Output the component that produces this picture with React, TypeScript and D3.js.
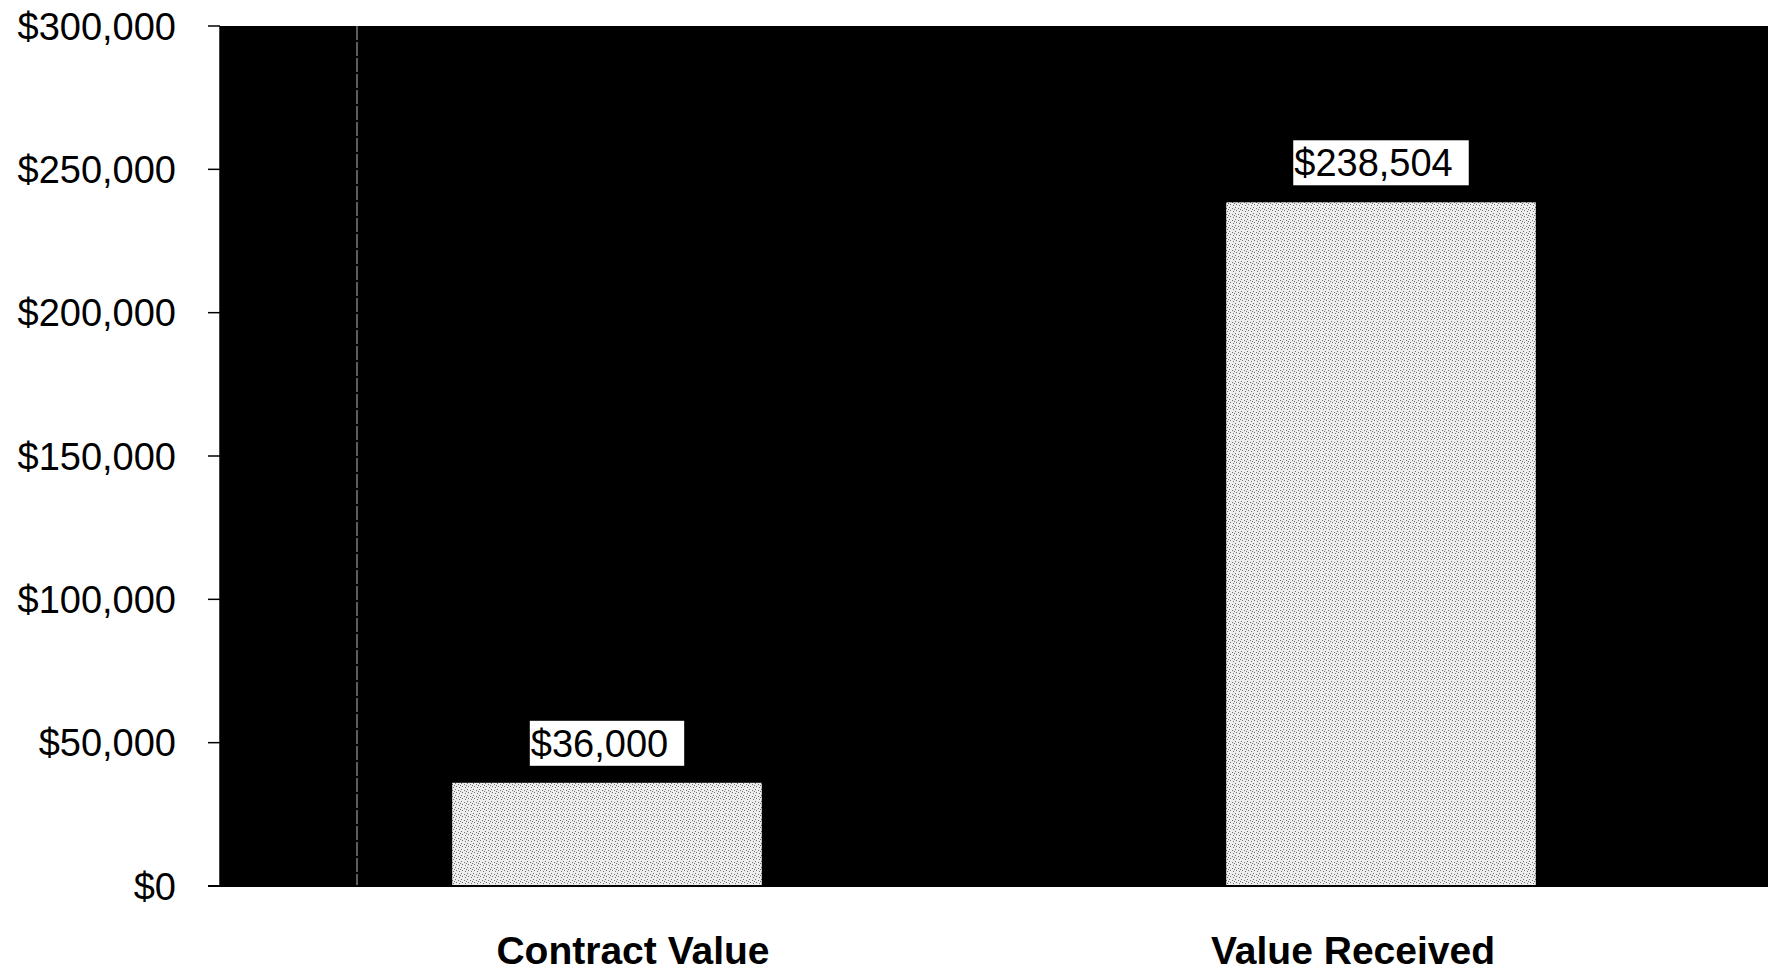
import React, { useEffect, useRef } from 'react';
import * as d3 from 'd3';

const categories = ['Contract Value', 'Value Received'];
const values = [36000, 238504];
const yTicks = [0, 50000, 100000, 150000, 200000, 250000, 300000];

const W = 1777;
const H = 974;

const App: React.FC = () => {
  const svgRef = useRef<SVGSVGElement>(null);

  useEffect(() => {
    if (!svgRef.current) return;
    const svg = d3.select(svgRef.current);
    svg.selectAll('*').remove();

    const margin = { top: 26, right: 9, bottom: 88, left: 220 };
    const innerW = W - margin.left - margin.right;
    const innerH = H - margin.top - margin.bottom;

    const x = d3.scaleBand<string>()
      .domain(categories)
      .range([0, innerW])
      .paddingInner(0.6)
      .paddingOuter(0.3);

    const y = d3.scaleLinear().domain([0, 300000]).range([innerH, 0]);

    // stipple texture for the bars
    const defs = svg.append('defs');
    const pat = defs.append('pattern')
      .attr('id', 'stipple')
      .attr('patternUnits', 'userSpaceOnUse')
      .attr('width', 6)
      .attr('height', 6);
    pat.append('rect').attr('width', 6).attr('height', 6).attr('fill', '#eeeeee');
    [[1, 1], [4, 2], [2, 4], [5, 5], [0, 3]].forEach(([px, py]) => {
      pat.append('rect').attr('x', px).attr('y', py).attr('width', 1).attr('height', 1).attr('fill', '#707070');
    });

    const g = svg.append('g').attr('transform', `translate(${margin.left},${margin.top})`);

    // plot area
    g.append('rect')
      .attr('width', innerW)
      .attr('height', innerH)
      .attr('fill', '#000');

    // faint scan line near the left
    g.append('line')
      .attr('x1', 137).attr('x2', 137)
      .attr('y1', 0).attr('y2', innerH)
      .attr('stroke', '#9a9a9a')
      .attr('stroke-width', 1.2)
      .attr('stroke-dasharray', '14,2');

    // bars
    g.selectAll('.bar')
      .data(values)
      .enter()
      .append('rect')
      .attr('class', 'bar')
      .attr('x', (d, i) => x(categories[i]) || 0)
      .attr('y', d => y(d))
      .attr('width', x.bandwidth())
      .attr('height', d => innerH - y(d))
      .attr('fill', 'url(#stipple)');

    // value labels in white boxes
    const fmt = (v: number) => '$' + d3.format(',')(v);
    values.forEach((v, i) => {
      const cx = (x(categories[i]) || 0) + x.bandwidth() / 2;
      const lg = g.append('g');
      const box = lg.append('rect').attr('fill', '#fff');
      const t = lg.append('text')
        .text(fmt(v))
        .attr('font-family', '"Liberation Sans", Arial, sans-serif')
        .attr('font-size', 38)
        .attr('fill', '#000');
      const tw = (t.node() as SVGTextElement).getComputedTextLength();
      const bw = tw + 17;
      const bh = 45;
      const bottom = y(v) - 17;
      box.attr('x', cx - bw / 2).attr('y', bottom - bh).attr('width', bw).attr('height', bh);
      t.attr('x', cx - bw / 2 + 1).attr('y', bottom - 9);
    });

    // y axis
    const yAxis = g.append('g');
    yAxis.append('line')
      .attr('x1', 0).attr('x2', 0).attr('y1', 0).attr('y2', innerH)
      .attr('stroke', '#000').attr('stroke-width', 1.5);
    yAxis.selectAll('.tick')
      .data(yTicks)
      .enter()
      .append('line')
      .attr('x1', -12).attr('x2', 0)
      .attr('y1', d => y(d)).attr('y2', d => y(d))
      .attr('stroke', '#000').attr('stroke-width', 1.5);
    yAxis.selectAll('.ylab')
      .data(yTicks)
      .enter()
      .append('text')
      .attr('x', -44)
      .attr('y', d => y(d))
      .attr('dy', '0.36em')
      .attr('text-anchor', 'end')
      .attr('font-family', '"Liberation Sans", Arial, sans-serif')
      .attr('font-size', 38)
      .attr('fill', '#000')
      .text(d => fmt(d));

    // baseline
    g.append('line')
      .attr('x1', -12).attr('x2', innerW)
      .attr('y1', innerH).attr('y2', innerH)
      .attr('stroke', '#000').attr('stroke-width', 2);

    // category labels (the scanned originals sit a little off the bar centres)
    const labelShift = [26, -28];
    g.selectAll('.xlab')
      .data(categories)
      .enter()
      .append('text')
      .attr('x', (d, i) => (x(d) || 0) + x.bandwidth() / 2 + labelShift[i])
      .attr('y', innerH + 78)
      .attr('text-anchor', 'middle')
      .attr('font-family', '"Liberation Sans", Arial, sans-serif')
      .attr('font-weight', 'bold')
      .attr('font-size', 39)
      .attr('fill', '#000')
      .text(d => d);
  }, []);

  return (
    <div style={{ position: 'fixed', left: 0, top: 0, width: W, height: H, background: '#fff' }}>
      <svg ref={svgRef} width={W} height={H} style={{ display: 'block' }} />
    </div>
  );
};

export default App;
